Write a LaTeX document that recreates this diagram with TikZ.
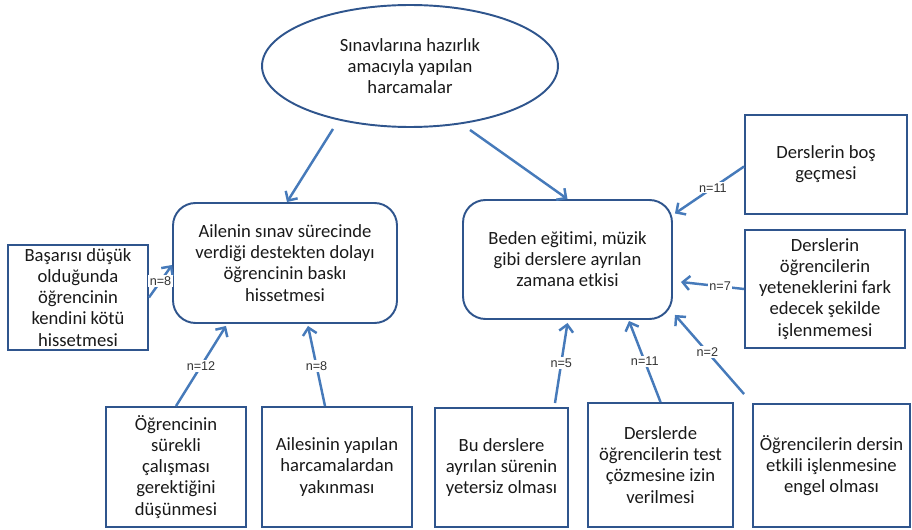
\documentclass[tikz,border=0pt]{standalone}
\usepackage{fontspec}
\setmainfont{Carlito}[Ligatures=NoCommon]
\newfontfamily\labelfont{Liberation Sans}
\usepackage{tikz}
\usetikzlibrary{shapes.geometric,arrows.meta,calc}
\definecolor{boxblue}{RGB}{47,85,141}
\definecolor{arrowblue}{RGB}{70,122,186}
\tikzset{
  box/.style={draw=boxblue, line width=1.1pt, align=center, inner sep=2pt, text=black!90, font=\fontsize{10.6}{12}\selectfont},
  roundbox/.style={box, rounded corners=0.45cm},
  link/.style={draw=arrowblue, line width=1.4pt, -{Straight Barb[length=4pt,width=8pt,line width=1.4pt]}},
  count/.style={fill=white, inner sep=0.8pt, text=black!80, font=\labelfont\fontsize{7.2}{8}\selectfont}
}
\begin{document}
\begin{tikzpicture}[x=0.02cm, y=-0.02cm]
        \useasboundingbox (0,0) rectangle (912,530);
        % main nodes
        \node[box, ellipse, minimum width=5.92cm, minimum height=2.44cm] (top) at (410,66) {Sınavlarına hazırlık\\ amacıyla yapılan\\ harcamalar};
        \node[roundbox, minimum width=4.48cm, minimum height=2.4cm] (ail) at (285,263) {Ailenin sınav sürecinde\\ verdiği destekten dolayı\\ öğrencinin baskı\\ hissetmesi};
        \node[roundbox, minimum width=4.18cm, minimum height=2.38cm] (bed) at (567.5,259.5) {Beden eğitimi, müzik\\ gibi derslere ayrılan\\ zamana etkisi};
        % causes of the first box
        \node[box, minimum width=2.8cm, minimum height=1.98cm] (bas) at (78,297.5) {Başarısı düşük\\ olduğunda\\ öğrencinin\\ kendini kötü\\ hissetmesi};
        \node[box, minimum width=2.8cm, minimum height=2.4cm] (sur) at (176,467) {Öğrencinin\\ sürekli\\ çalışması\\ gerektiğini\\ düşünmesi};
        \node[box, minimum width=3.0cm, minimum height=2.4cm] (yak) at (337,467) {Ailesinin yapılan\\ harcamalardan\\ yakınması};
        % causes of the second box
        \node[box, minimum width=2.66cm, minimum height=2.38cm] (yet) at (501.5,467.5) {Bu derslere\\ ayrılan sürenin\\ yetersiz olması};
        \node[box, minimum width=2.9cm, minimum height=2.48cm] (tes) at (660.5,465) {Derslerde\\ öğrencilerin test\\ çözmesine izin\\ verilmesi};
        \node[box, minimum width=3.14cm, minimum height=2.46cm] (eng) at (831.5,465.5) {Öğrencilerin dersin\\ etkili işlenmesine\\ engel olması};
        \node[box, minimum width=3.24cm, minimum height=1.98cm] (bos) at (826,164.5) {Derslerin boş\\ geçmesi};
        \node[box, minimum width=3.2cm, minimum height=2.36cm] (isl) at (825,289) {Derslerin\\ öğrencilerin\\ yeteneklerini fark\\ edecek şekilde\\ işlenmemesi};
        % connectors
        \draw[link] ($(top.south)+(-77,1)$) -- ($(ail.north)+(2,0)$);
        \draw[link] ($(top.south)+(60,2)$) -- (bed.north);
        \draw[link] (bas.east) -- ($(ail.west)+(0,2)$) node[count, pos=0.5] {n=8};
        \draw[link] (sur.north) -- ($(ail.south)+(-59,2)$) node[count, pos=0.5] {n=12};
        \draw[link] ($(yak.north)+(-12,0)$) -- ($(ail.south)+(23,2)$) node[count, pos=0.5] {n=8};
        \draw[link] ($(bos.west)+(0,2)$) -- ($(bed.east)+(2,-46)$) node[count, pos=0.45] {n=11};
        \draw[link] (isl.west) -- ($(bed.east)+(8,22.5)$) node[count, pos=0.38] {n=7};
        \draw[link] ($(eng.north west)+(-8,-9)$) -- ($(bed.south east)+(2,-5)$) node[count, pos=0.53] {n=2};
        \draw[link] (tes.north) -- ($(bed.south)+(61.5,1)$) node[count, pos=0.5] {n=11};
        \draw[link] ($(yet.north)+(53.5,-4)$) -- ($(bed.south)+(0,3)$) node[count, pos=0.5] {n=5};
      \end{tikzpicture}
\end{document}
